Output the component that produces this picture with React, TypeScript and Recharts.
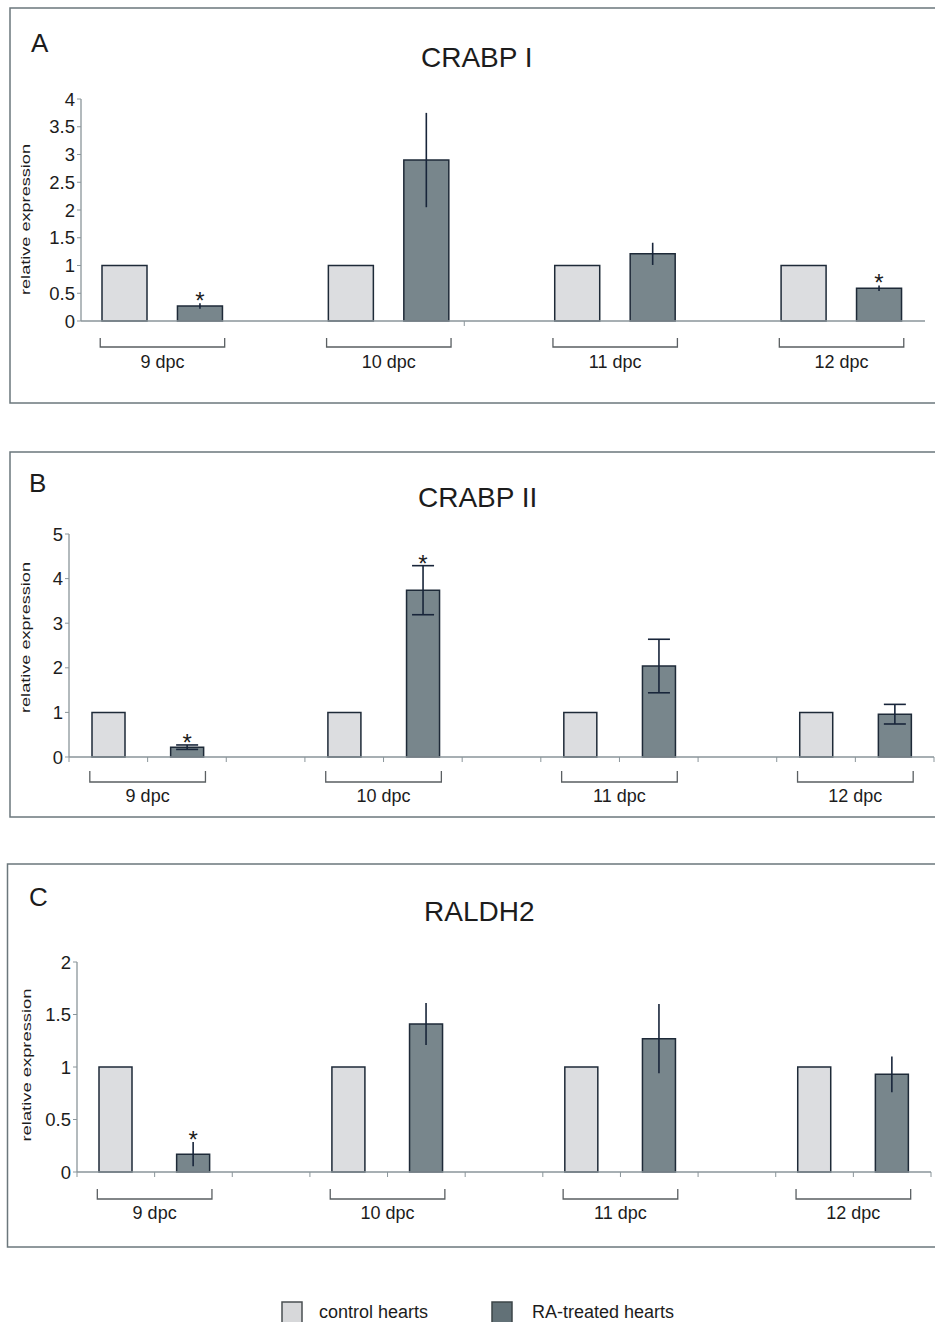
import React from "react";
import { BarChart, Bar, XAxis, YAxis, ErrorBar, Cell, LabelList } from "recharts";

const FONT = '"Liberation Sans", Arial, Helvetica, sans-serif';

// stages (dpc) shared by all three panels
const days = ["9 dpc", "10 dpc", "11 dpc", "12 dpc"];

// A - CRABP I
const crabp1Control = [1, 1, 1, 1];
const crabp1Treated = [0.27, 2.9, 1.21, 0.59];
const crabp1TreatedErr = [0.05, 0.85, 0.2, 0.05];
const crabp1Signif = [true, false, false, true];
const crabp1Ticks = [0, 0.5, 1, 1.5, 2, 2.5, 3, 3.5, 4];

// B - CRABP II
const crabp2Control = [1, 1, 1, 1];
const crabp2Treated = [0.22, 3.74, 2.04, 0.96];
const crabp2TreatedErr = [0.05, 0.55, 0.6, 0.22];
const crabp2Signif = [true, true, false, false];
const crabp2Ticks = [0, 1, 2, 3, 4, 5];

// C - RALDH2
const raldh2Control = [1, 1, 1, 1];
const raldh2Treated = [0.17, 1.41, 1.27, 0.93];
const raldh2TreatedErr = [0.115, 0.2, 0.33, 0.17];
const raldh2Signif = [true, false, false, false];
const raldh2Ticks = [0, 0.5, 1, 1.5, 2];

const legendNames = ["control hearts", "RA-treated hearts"];

const CONTROL_FILL = "#dcdde0";
const TREATED_FILL = "#78868c";
const BAR_STROKE = "#1e2a38";
const AXIS = "#8a959a";
const TEXT = "#1c1c1c";

type Row = {
  key: string;
  kind: "control" | "treated" | "gap";
  value: number | null;
  err: number | null;
  sig: boolean;
};

function buildRows(control: number[], treated: number[], err: number[], sig: boolean[]): Row[] {
  const rows: Row[] = [];
  days.forEach((_, i) => {
    rows.push({ key: `c${i}`, kind: "control", value: control[i], err: 0, sig: false });
    rows.push({ key: `t${i}`, kind: "treated", value: treated[i], err: err[i], sig: sig[i] });
    if (i < days.length - 1) rows.push({ key: `g${i}`, kind: "gap", value: null, err: null, sig: false });
  });
  return rows;
}

const panels = [
  {
    letter: "A",
    title: "CRABP I",
    rows: buildRows(crabp1Control, crabp1Treated, crabp1TreatedErr, crabp1Signif),
    ticks: crabp1Ticks,
    top: 8,
    height: 395,
    margin: { top: 91, right: 10, bottom: 22, left: 20 },
    yWidth: 61,
    xHeight: 60,
    pad: { left: 6, right: 8 },
    barSize: 45,
    cap: 0,
    bracket: [17, 26],
    labelDy: 47,
    boundaryTicks: [5] as number[] | "all",
  },
  {
    letter: "B",
    title: "CRABP II",
    rows: buildRows(crabp2Control, crabp2Treated, crabp2TreatedErr, crabp2Signif),
    ticks: crabp2Ticks,
    top: 452,
    height: 365,
    margin: { top: 82, right: 1, bottom: 10, left: 20 },
    yWidth: 49,
    xHeight: 50,
    pad: { left: 0, right: 0 },
    barSize: 33,
    cap: 11,
    bracket: [14, 25],
    labelDy: 44.5,
    boundaryTicks: "all" as number[] | "all",
  },
  {
    letter: "C",
    title: "RALDH2",
    rows: buildRows(raldh2Control, raldh2Treated, raldh2TreatedErr, raldh2Signif),
    ticks: raldh2Ticks,
    top: 864,
    height: 383,
    margin: { top: 98, right: 4, bottom: 15, left: 20 },
    yWidth: 57,
    xHeight: 60,
    pad: { left: 0, right: 0 },
    barSize: 33,
    cap: 0,
    bracket: [17, 27],
    labelDy: 46.5,
    boundaryTicks: "all" as number[] | "all",
  },
];

type Panel = (typeof panels)[number];

function bandOf(p: Panel) {
  const plotW = 935 - p.margin.left - p.yWidth - p.margin.right - p.pad.left - p.pad.right;
  return plotW / p.rows.length;
}

function GroupTick(props: any) {
  const { x, y, payload, panel } = props;
  const p: Panel = panel;
  const key: string = payload?.value ?? "";
  const idx = p.rows.findIndex((r) => r.key === key);
  const band = bandOf(p);
  const half = p.barSize / 2 + 2;
  const marks: number[] = [];
  if (p.boundaryTicks === "all" || p.boundaryTicks.includes(idx)) marks.push(x - band / 2);
  if (p.boundaryTicks === "all" && idx === p.rows.length - 1) marks.push(x + band / 2);
  const isControl = key[0] === "c";
  const dayIdx = Number(key.slice(1));
  const [b0, b1] = p.bracket;
  return (
    <g>
      {marks.map((mx, k) => (
        <line key={k} x1={mx} x2={mx} y1={y} y2={y + 5} stroke={AXIS} strokeWidth={1} />
      ))}
      {isControl && (
        <g>
          <polyline
            points={`${x - half},${y + b0} ${x - half},${y + b1} ${x + band + half},${y + b1} ${x + band + half},${y + b0}`}
            fill="none"
            stroke="#5a5f62"
            strokeWidth={1.3}
          />
          <text
            x={x + band / 2}
            y={y + p.labelDy}
            textAnchor="middle"
            fontSize={18}
            fill={TEXT}
            fontFamily={FONT}
          >
            {days[dayIdx]}
          </text>
        </g>
      )}
    </g>
  );
}

const renderStar = (props: any) => {
  const { value } = props;
  if (value == null) return null;
  const vb = props.viewBox && props.viewBox.width != null ? props.viewBox : props;
  const { x, y, width, height } = vb;
  const base = y + height;
  const top = base - height * value;
  return (
    <text x={x + width / 2} y={top + 6} textAnchor="middle" fontSize={24} fill={TEXT} fontFamily={FONT}>
      *
    </text>
  );
};

function PanelChart({ p }: { p: Panel }) {
  return (
    <div style={{ position: "absolute", left: 0, top: p.top }}>
      <BarChart width={935} height={p.height} data={p.rows} margin={p.margin}>
        <XAxis
          dataKey="key"
          type="category"
          interval={0}
          height={p.xHeight}
          padding={p.pad}
          axisLine={{ stroke: AXIS, strokeWidth: 1.3 }}
          tickLine={false}
          tickSize={0}
          tickMargin={0}
          tick={(tp: any) => <GroupTick {...tp} panel={p} />}
        />
        <YAxis
          type="number"
          domain={[p.ticks[0], p.ticks[p.ticks.length - 1]]}
          ticks={p.ticks}
          interval={0}
          width={p.yWidth}
          axisLine={{ stroke: AXIS, strokeWidth: 1.3 }}
          tickLine={{ stroke: AXIS }}
          tickSize={4}
          tickMargin={2}
          tick={{ fontSize: 18.5, fill: TEXT, fontFamily: FONT }}
        />
        <Bar dataKey="value" barSize={p.barSize} isAnimationActive={false} stroke={BAR_STROKE} strokeWidth={1.5}>
          {p.rows.map((r) => (
            <Cell key={r.key} fill={r.kind === "control" ? CONTROL_FILL : TREATED_FILL} />
          ))}
          <ErrorBar dataKey="err" width={p.cap} stroke="#18253a" strokeWidth={1.6} direction="y" />
          <LabelList
            dataKey={(d: any) => (d.sig ? (d.value + d.err) / d.value : null)}
            content={renderStar}
          />
        </Bar>
      </BarChart>
    </div>
  );
}

const yLabelPos = [
  { x: 30, y: 219.5, len: 151 },
  { x: 30, y: 637.5, len: 151 },
  { x: 30.5, y: 1065, len: 153 },
];
const letterPos = [
  { x: 31, y: 52 },
  { x: 29, y: 492 },
  { x: 29, y: 906 },
];
const titlePos = [
  { x: 421, y: 67 },
  { x: 418, y: 507 },
  { x: 424, y: 921 },
];
const frames = [
  { x: 10, y: 8, h: 395 },
  { x: 10, y: 452, h: 365 },
  { x: 7.5, y: 864, h: 383 },
];

export default function App() {
  return (
    <div
      style={{
        position: "absolute",
        left: 0,
        top: 0,
        width: 935,
        height: 1322,
        overflow: "hidden",
        background: "#fff",
        fontFamily: FONT,
      }}
    >
      {panels.map((p) => (
        <PanelChart key={p.letter} p={p} />
      ))}
      <svg
        width={935}
        height={1322}
        style={{ position: "absolute", left: 0, top: 0, pointerEvents: "none" }}
        fontFamily={FONT}
      >
        {frames.map((f, i) => (
          <rect key={i} x={f.x} y={f.y} width={960} height={f.h} fill="none" stroke="#6b777c" strokeWidth={1.5} />
        ))}
        {panels.map((p, i) => (
          <g key={p.letter}>
            <text x={letterPos[i].x} y={letterPos[i].y} fontSize={26} fill={TEXT}>
              {p.letter}
            </text>
            <text x={titlePos[i].x} y={titlePos[i].y} fontSize={28} fill={TEXT}>
              {p.title}
            </text>
            <text
              transform={`translate(${yLabelPos[i].x}, ${yLabelPos[i].y}) rotate(-90)`}
              textAnchor="middle"
              fontSize={13.5}
              textLength={yLabelPos[i].len}
              lengthAdjust="spacingAndGlyphs"
              fill={TEXT}
            >
              relative expression
            </text>
          </g>
        ))}
        <rect x={282} y={1302} width={20} height={22} fill="#d7d8da" stroke="#4a4f52" strokeWidth={1.5} />
        <text x={319} y={1318} fontSize={18} fill={TEXT}>
          {legendNames[0]}
        </text>
        <rect x={492} y={1302} width={20} height={22} fill="#627177" stroke="#3c4548" strokeWidth={1.5} />
        <text x={532} y={1318} fontSize={18} fill={TEXT}>
          {legendNames[1]}
        </text>
      </svg>
    </div>
  );
}
